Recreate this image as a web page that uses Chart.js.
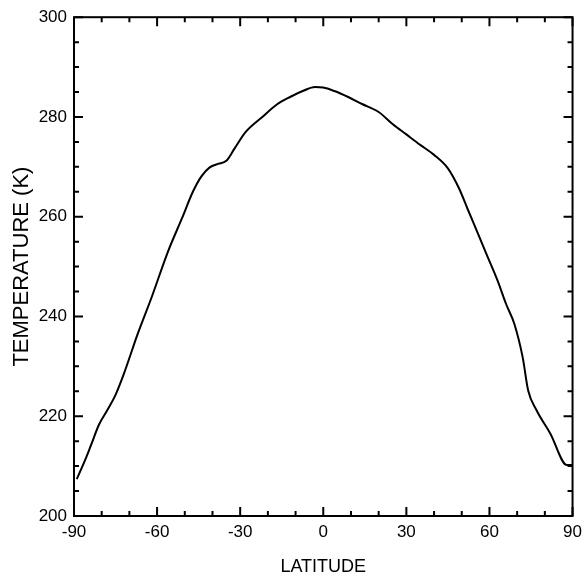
<!DOCTYPE html>
<html>
<head>
<meta charset="utf-8">
<script src="https://cdn.jsdelivr.net/npm/chart.js@4"></script>
<style>
  html, body { margin: 0; padding: 0; background: #fff; }
  #wrap { width: 588px; height: 581px; }
</style>
</head>
<body>
<div id="wrap"><canvas id="myChart" width="588" height="581"></canvas></div>
<script>
// zonal mean temperature profile
let latitude = [-89, -86, -84, -81, -78, -75, -72, -67, -62, -56, -51, -47, -44, -41, -38, -35, -32, -28, -22, -17, -12, -7, -3, 0, 4, 9, 14, 20, 25, 30, 35, 40, 45, 49, 52, 56, 59, 63, 66, 69, 72, 74, 77, 82, 88, 90];
let temperature = [207.4, 211.2, 214.0, 218.3, 221.2, 224.3, 228.5, 236.5, 243.8, 253.1, 259.7, 265.1, 268.1, 269.9, 270.6, 271.2, 273.7, 277.0, 280.0, 282.4, 284.0, 285.3, 286.0, 285.9, 285.2, 284.0, 282.6, 281.0, 278.6, 276.5, 274.4, 272.4, 269.7, 265.7, 261.7, 256.4, 252.4, 247.1, 242.5, 238.5, 231.8, 225.1, 221.2, 216.5, 210.2, 210.2];

let xTicksMajor = [-90, -60, -30, 0, 30, 60, 90];
let yTicksMajor = [200, 220, 240, 260, 280, 300];

let tickFont = { family: "'Liberation Sans Narrow', 'Arial Narrow', 'Liberation Sans', sans-serif", size: 17 };

// frame + inward ticks on all four sides
const framePlugin = {
    id: 'frame',
    afterDraw(chart)
    {
        const ctx = chart.ctx;
        const a = chart.chartArea;
        const xs = chart.scales.x, ys = chart.scales.y;
        ctx.save();
        ctx.strokeStyle = '#000';
        ctx.lineWidth = 2;
        ctx.strokeRect(a.left, a.top, a.right - a.left, a.bottom - a.top);
        ctx.beginPath();
        for (let v = -90; v <= 90; v += 10)
        {
            let len = xTicksMajor.includes(v) ? 9 : 5;
            let px = xs.getPixelForValue(v);
            ctx.moveTo(px, a.bottom); ctx.lineTo(px, a.bottom - len);
            ctx.moveTo(px, a.top); ctx.lineTo(px, a.top + len);
        }
        for (let v = 200; v <= 300; v += 5)
        {
            let len = yTicksMajor.includes(v) ? 9 : 5;
            let py = ys.getPixelForValue(v);
            ctx.moveTo(a.left, py); ctx.lineTo(a.left + len, py);
            ctx.moveTo(a.right, py); ctx.lineTo(a.right - len, py);
        }
        ctx.stroke();
        ctx.restore();
    }
};

let chart_1 = new Chart(document.getElementById('myChart').getContext('2d'),
{
    type: 'line',
    data:
    {
        datasets:
        [
            {
                label: 'Temperature',
                data: latitude.map((lat, i) => ({ x: lat, y: temperature[i] })),
                borderColor: '#000',
                borderWidth: 2,
                pointRadius: 0,
                fill: false,
                cubicInterpolationMode: 'monotone'
            }
        ]
    },
    options:
    {
        responsive: false,
        animation: false,
        layout: { padding: { left: 0, right: 12, top: 15, bottom: 0 } },
        plugins:
        {
            legend: { display: false },
            tooltip: { enabled: false }
        },
        scales:
        {
            x:
            {
                type: 'linear',
                min: -90,
                max: 90,
                grid: { display: false, drawTicks: false },
                border: { display: false },
                ticks: { stepSize: 30, color: '#000', font: tickFont, padding: 6, maxRotation: 0 },
                title:
                {
                    display: true,
                    text: 'LATITUDE',
                    color: '#000',
                    font: { family: tickFont.family, size: 18 },
                    padding: { top: 0, bottom: 3 }
                },
                afterFit(scale) { scale.height = 65; }
            },
            y:
            {
                min: 200,
                max: 300,
                grid: { display: false, drawTicks: false },
                border: { display: false },
                ticks: { stepSize: 20, color: '#000', font: tickFont, padding: 7 },
                title:
                {
                    display: true,
                    text: 'TEMPERATURE (K)',
                    color: '#000',
                    font: { family: "'Liberation Sans', Arial, sans-serif", size: 22 },
                    padding: { top: 9, bottom: 0 }
                },
                afterFit(scale) { scale.width = 74; }
            }
        }
    },
    plugins: [framePlugin]
});
</script>
</body>
</html>
